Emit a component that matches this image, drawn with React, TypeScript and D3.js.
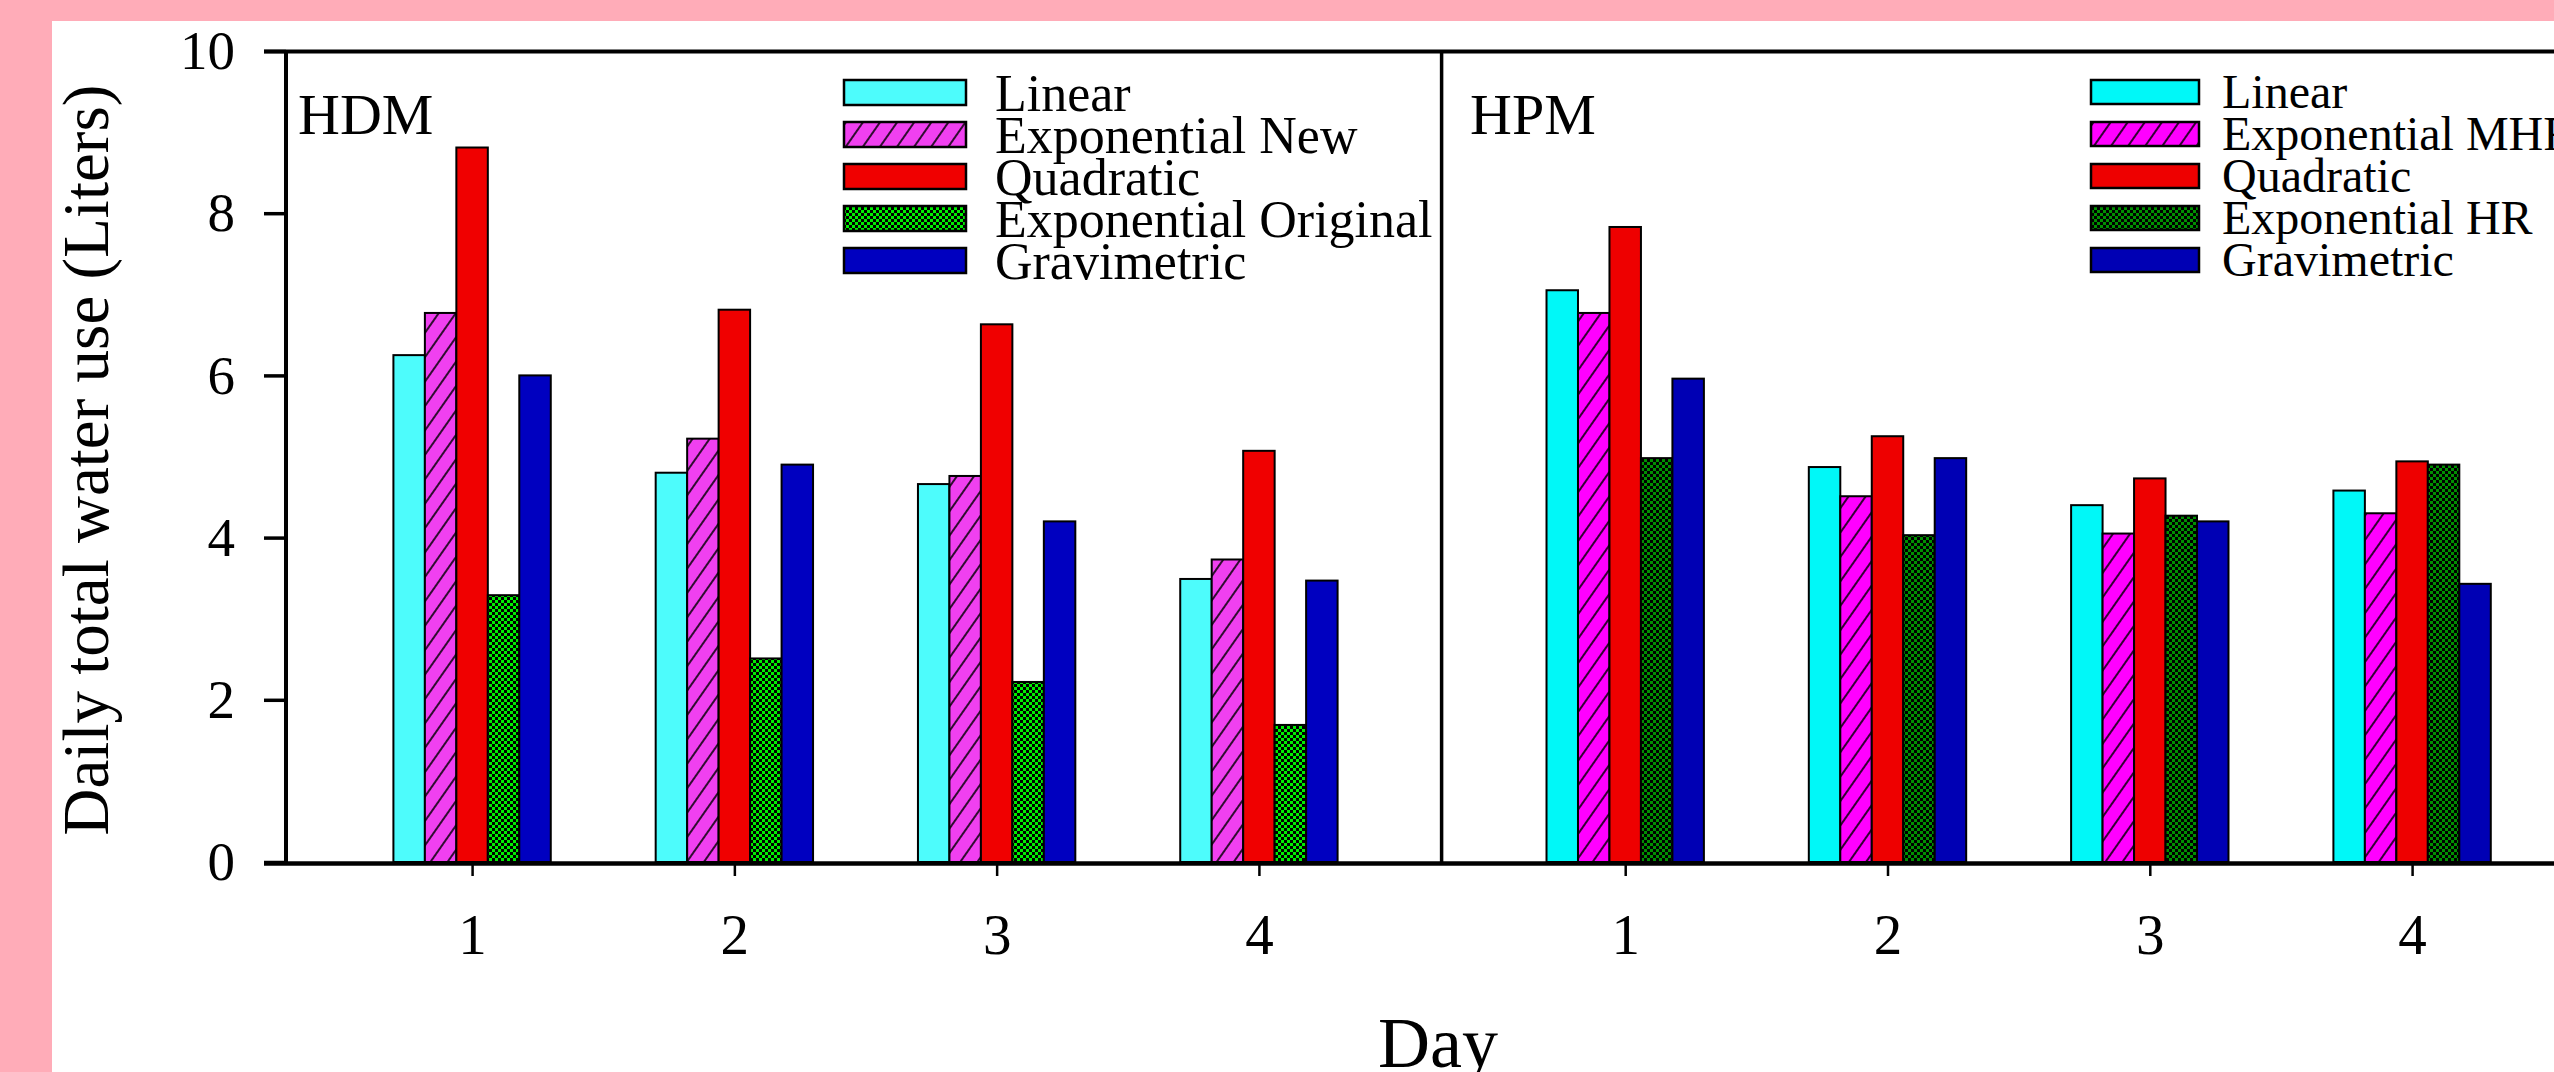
import React, { useEffect, useRef } from "react";
import { select, scaleLinear, scaleBand, axisLeft, axisBottom, format } from "d3";

// days on the x axis and y ticks
const days = [1, 2, 3, 4];
const yTicks = [0, 2, 4, 6, 8, 10];

// HDM panel
const hdmKeys = ["Linear", "Exponential New", "Quadratic", "Exponential Original", "Gravimetric"];
const hdmLinear = [6.25, 4.8, 4.66, 3.49];
const hdmExpNew = [6.77, 5.22, 4.76, 3.73];
const hdmQuadratic = [8.81, 6.81, 6.63, 5.07];
const hdmExpOriginal = [3.29, 2.51, 2.22, 1.69];
const hdmGravimetric = [6.0, 4.9, 4.2, 3.47];

// HPM panel
const hpmKeys = ["Linear", "Exponential MHF", "Quadratic", "Exponential HR", "Gravimetric"];
const hpmLinear = [7.05, 4.87, 4.4, 4.58];
const hpmExpMHF = [6.77, 4.51, 4.05, 4.3];
const hpmQuadratic = [7.83, 5.25, 4.73, 4.94];
const hpmExpHR = [4.98, 4.03, 4.27, 4.9];
const hpmGravimetric = [5.96, 4.98, 4.2, 3.43];

const FONT = "'Liberation Serif', 'Times New Roman', serif";
const W = 2554;
const H = 1072;

const y = scaleLinear().domain([0, 10]).range([862, 51]);

const panels = [
  {
    id: "hdm",
    title: "HDM",
    titleX: 298,
    keys: hdmKeys,
    series: [hdmLinear, hdmExpNew, hdmQuadratic, hdmExpOriginal, hdmGravimetric],
    fills: ["#4dfcfc", "url(#hatch-hdm)", "#f00000", "url(#check-hdm)", "#0000c0"],
    magenta: "#f040f0",
    green: "#00ee00",
    x: scaleLinear().domain([0.3, 4.7]).range([288.5, 1442.5]),
    legend: { swatchX: 844, swatchW: 122, swatchH: 25, textX: 995, fontSize: 52, baseOff: 31 },
  },
  {
    id: "hpm",
    title: "HPM",
    titleX: 1470,
    keys: hpmKeys,
    series: [hpmLinear, hpmExpMHF, hpmQuadratic, hpmExpHR, hpmGravimetric],
    fills: ["#00f8f8", "url(#hatch-hpm)", "#ee0000", "url(#check-hpm)", "#0000b4"],
    magenta: "#ff00ff",
    green: "#009000",
    x: scaleLinear().domain([0.3, 4.7]).range([1441.6, 2595.7]),
    legend: { swatchX: 2091, swatchW: 108, swatchH: 24, textX: 2222, fontSize: 48, baseOff: 28 },
  },
];

function Panel({ p }) {
  const axisRef = useRef();
  const inner = scaleBand().domain(p.keys).range([-0.3, 0.3]);

  useEffect(() => {
    const g = select(axisRef.current);
    g.call(axisBottom(p.x).tickValues(days).tickSize(12).tickPadding(38).tickFormat(format("d")));
    g.select(".domain").remove();
    g.attr("font-family", FONT).attr("font-size", 57);
    g.selectAll("line").attr("stroke-width", 2.5);
  }, [p]);

  return (
    <g>
      {p.keys.map((k, i) =>
        p.series[i].map((v, j) => {
          const x0 = p.x(days[j] + inner(k));
          const x1 = p.x(days[j] + inner(k) + inner.bandwidth());
          return (
            <rect
              key={k + j}
              x={x0}
              y={y(v)}
              width={x1 - x0}
              height={y(0) - y(v)}
              fill={p.fills[i]}
              stroke="#000"
              strokeWidth={2}
            />
          );
        })
      )}
      <g ref={axisRef} transform="translate(0,864)" />
      <text x={p.titleX} y={134} fontFamily={FONT} fontSize={58}>
        {p.title}
      </text>
      {p.keys.map((k, i) => {
        const top = 80 + i * 42;
        return (
          <g key={k}>
            <rect
              x={p.legend.swatchX}
              y={top}
              width={p.legend.swatchW}
              height={p.legend.swatchH}
              fill={p.fills[i]}
              stroke="#000"
              strokeWidth={2.5}
            />
            <text x={p.legend.textX} y={top + p.legend.baseOff} fontFamily={FONT} fontSize={p.legend.fontSize}>
              {k}
            </text>
          </g>
        );
      })}
    </g>
  );
}

export default function App() {
  const yAxisRef = useRef();

  useEffect(() => {
    const g = select(yAxisRef.current);
    g.call(axisLeft(y).tickValues(yTicks).tickSize(22).tickPadding(29).tickFormat(format("d")));
    g.select(".domain").remove();
    g.attr("font-family", FONT).attr("font-size", 55);
    g.selectAll("line").attr("stroke-width", 3.5);
  }, []);

  return (
    <svg width={W} height={H} style={{ position: "absolute", left: 0, top: 0 }}>
      <defs>
        {panels.map((p) => (
          <React.Fragment key={p.id}>
            <pattern id={"hatch-" + p.id} width={14} height={10} patternUnits="userSpaceOnUse" patternTransform="rotate(35)">
              <rect width={14} height={10} fill={p.magenta} />
              <line x1={7} y1={0} x2={7} y2={10} stroke="#000" strokeWidth={1.6} />
            </pattern>
            <pattern id={"check-" + p.id} width={6} height={6} patternUnits="userSpaceOnUse">
              <rect width={6} height={6} fill={p.green} />
              <rect width={3} height={3} fill="#000" />
              <rect x={3} y={3} width={3} height={3} fill="#000" />
            </pattern>
          </React.Fragment>
        ))}
      </defs>
      <rect width={W} height={H} fill="#ffacb8" />
      <rect x={52} y={21} width={W - 52} height={H - 21} fill="#fff" />

      {panels.map((p) => (
        <Panel key={p.id} p={p} />
      ))}

      {/* frame */}
      <line x1={264} y1={51.5} x2={W} y2={51.5} stroke="#000" strokeWidth={4} />
      <line x1={286} y1={50} x2={286} y2={865} stroke="#000" strokeWidth={4} />
      <line x1={264} y1={863.5} x2={W} y2={863.5} stroke="#000" strokeWidth={4.5} />
      <line x1={1441.6} y1={50} x2={1441.6} y2={864} stroke="#000" strokeWidth={3.5} />

      <g ref={yAxisRef} transform="translate(286,0)" />

      <text
        transform="translate(108,460) rotate(-90)"
        textAnchor="middle"
        fontFamily={FONT}
        fontSize={65}
      >
        Daily total water use (Liters)
      </text>
      <text x={1438} y={1067} textAnchor="middle" fontFamily={FONT} fontSize={72}>
        Day
      </text>
    </svg>
  );
}
